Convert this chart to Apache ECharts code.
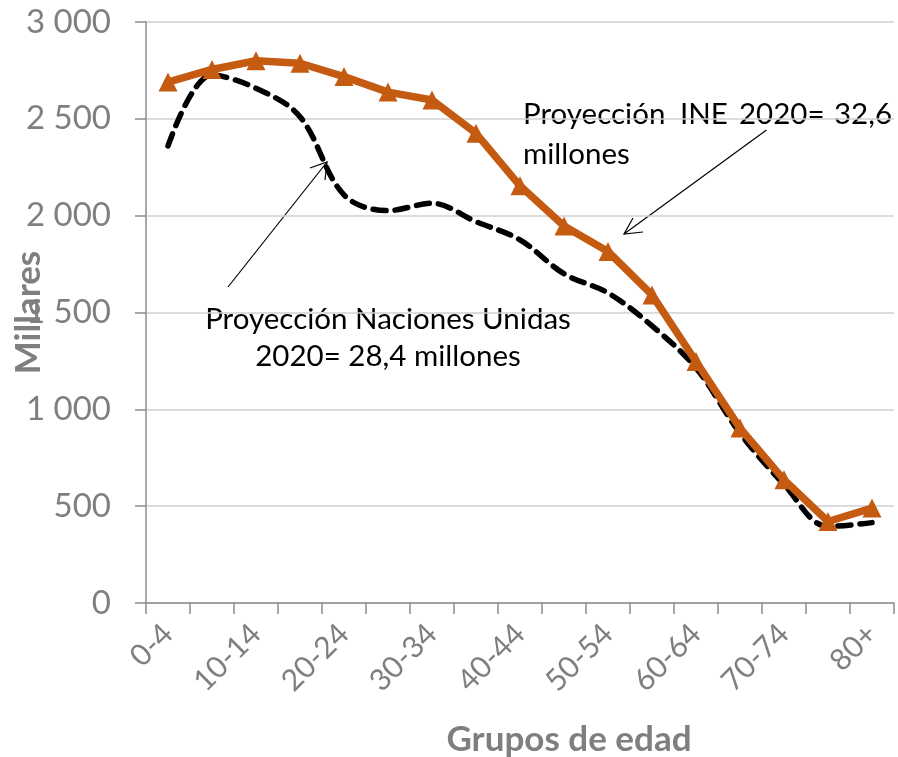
<!DOCTYPE html>
<html>
<head>
<meta charset="utf-8">
<script src="https://cdn.jsdelivr.net/npm/echarts@6/dist/echarts.min.js"></script>
<style>
html,body{margin:0;padding:0;background:#fff;}
#c{width:898px;height:757px;}
</style>
</head>
<body>
<div id="c"></div>
<script>
var categories = ['0-4','5-9','10-14','15-19','20-24','25-29','30-34','35-39','40-44','45-49','50-54','55-59','60-64','65-69','70-74','75-79','80+'];
var ineValues = [2690, 2755, 2800, 2787, 2718, 2638, 2597, 2425, 2154, 1947, 1815, 1591, 1247, 903, 636, 421, 490];
var unValues  = [2360, 2726, 2658, 2511, 2107, 2026, 2064, 1969, 1875, 1700, 1601, 1431, 1213, 877, 612, 395, 415];
var yTickLabels = {0:'0',500:'500',1000:'1 000',1500:'1 500',2000:'2 000',2500:'2 500',3000:'3 000'};

var chart = echarts.init(document.getElementById('c'));
var gray = '#7f7f7f';
var font = 'Lato';
var annFont = '29.5px Lato';
chart.setOption({
  animation: false,
  backgroundColor: '#fff',
  grid: {left: 146, right: 4, top: 22, bottom: 154, containLabel: false, outerBoundsMode: 'none'},
  xAxis: {
    type: 'category',
    data: categories,
    boundaryGap: true,
    name: 'Grupos de edad',
    nameLocation: 'middle',
    nameGap: 119,
    nameMoveOverlap: false,
    nameTextStyle: {color: gray, fontFamily: font, fontWeight: 'bold', fontSize: 35, padding: [0, 0, 0, 98]},
    axisLine: {lineStyle: {color: '#8c8c8c', width: 1.5}},
    axisTick: {show: true, interval: 0, length: 11, lineStyle: {color: '#8c8c8c', width: 1.5}},
    axisLabel: {interval: 1, rotate: 45, color: gray, fontFamily: font, fontSize: 30, margin: 26},
    splitLine: {show: false}
  },
  yAxis: {
    type: 'value',
    min: 0, max: 3000, interval: 500,
    name: 'Millares',
    nameLocation: 'middle',
    nameGap: 100,
    nameMoveOverlap: false,
    nameRotate: 90,
    nameTextStyle: {color: gray, fontFamily: font, fontWeight: 'bold', fontSize: 35},
    axisLine: {show: true, lineStyle: {color: '#8c8c8c', width: 1.5}},
    axisTick: {show: true, inside: false, length: 11, lineStyle: {color: '#8c8c8c', width: 1.5}},
    axisLabel: {color: gray, fontFamily: font, fontSize: 33, margin: 35, formatter: function(v){return yTickLabels[v];}},
    splitLine: {show: true, lineStyle: {color: '#d0d0d0', width: 1.5}}
  },
  series: [
    {
      name: 'Naciones Unidas',
      type: 'line',
      data: unValues,
      smooth: 0.35,
      symbol: 'none',
      lineStyle: {color: '#000', width: 5.5, type: [13, 9], cap: 'round'},
      z: 2
    },
    {
      name: 'INE',
      type: 'line',
      data: ineValues,
      symbol: 'triangle',
      symbolSize: 19,
      itemStyle: {color: '#C55A11'},
      lineStyle: {color: '#C55A11', width: 7.5, join: 'round'},
      z: 3
    }
  ],
  graphic: [
    {type: 'text', x: 523, y: 99, style: {text: 'Proyección', font: annFont, fill: '#000', align: 'left'}},
    {type: 'text', x: 680, y: 99, style: {text: 'INE', font: annFont, fill: '#000', align: 'left'}},
    {type: 'text', x: 739, y: 99, style: {text: '2020=', font: annFont, fill: '#000', align: 'left'}},
    {type: 'text', x: 892, y: 99, style: {text: '32,6', font: annFont, fill: '#000', align: 'right'}},
    {type: 'text', x: 523, y: 139, style: {text: 'millones', font: annFont, fill: '#000', align: 'left'}},
    {type: 'text', x: 388, y: 304, style: {text: 'Proyección Naciones Unidas', font: annFont, fill: '#000', align: 'center'}},
    {type: 'text', x: 388, y: 341, style: {text: '2020= 28,4 millones', font: annFont, fill: '#000', align: 'center'}},
    {type: 'line', shape: {x1: 766.5, y1: 130, x2: 624, y2: 234}, style: {stroke: '#000', lineWidth: 1.2}},
    {type: 'polyline', shape: {points: [[633, 218], [624, 234], [643, 232]]}, style: {stroke: '#000', lineWidth: 1.2, fill: null}},
    {type: 'line', shape: {x1: 228, y1: 287, x2: 327, y2: 162}, style: {stroke: '#000', lineWidth: 1.2}},
    {type: 'polyline', shape: {points: [[310, 168], [327, 162], [325, 180]]}, style: {stroke: '#000', lineWidth: 1.2, fill: null}}
  ]
});
</script>
</body>
</html>
